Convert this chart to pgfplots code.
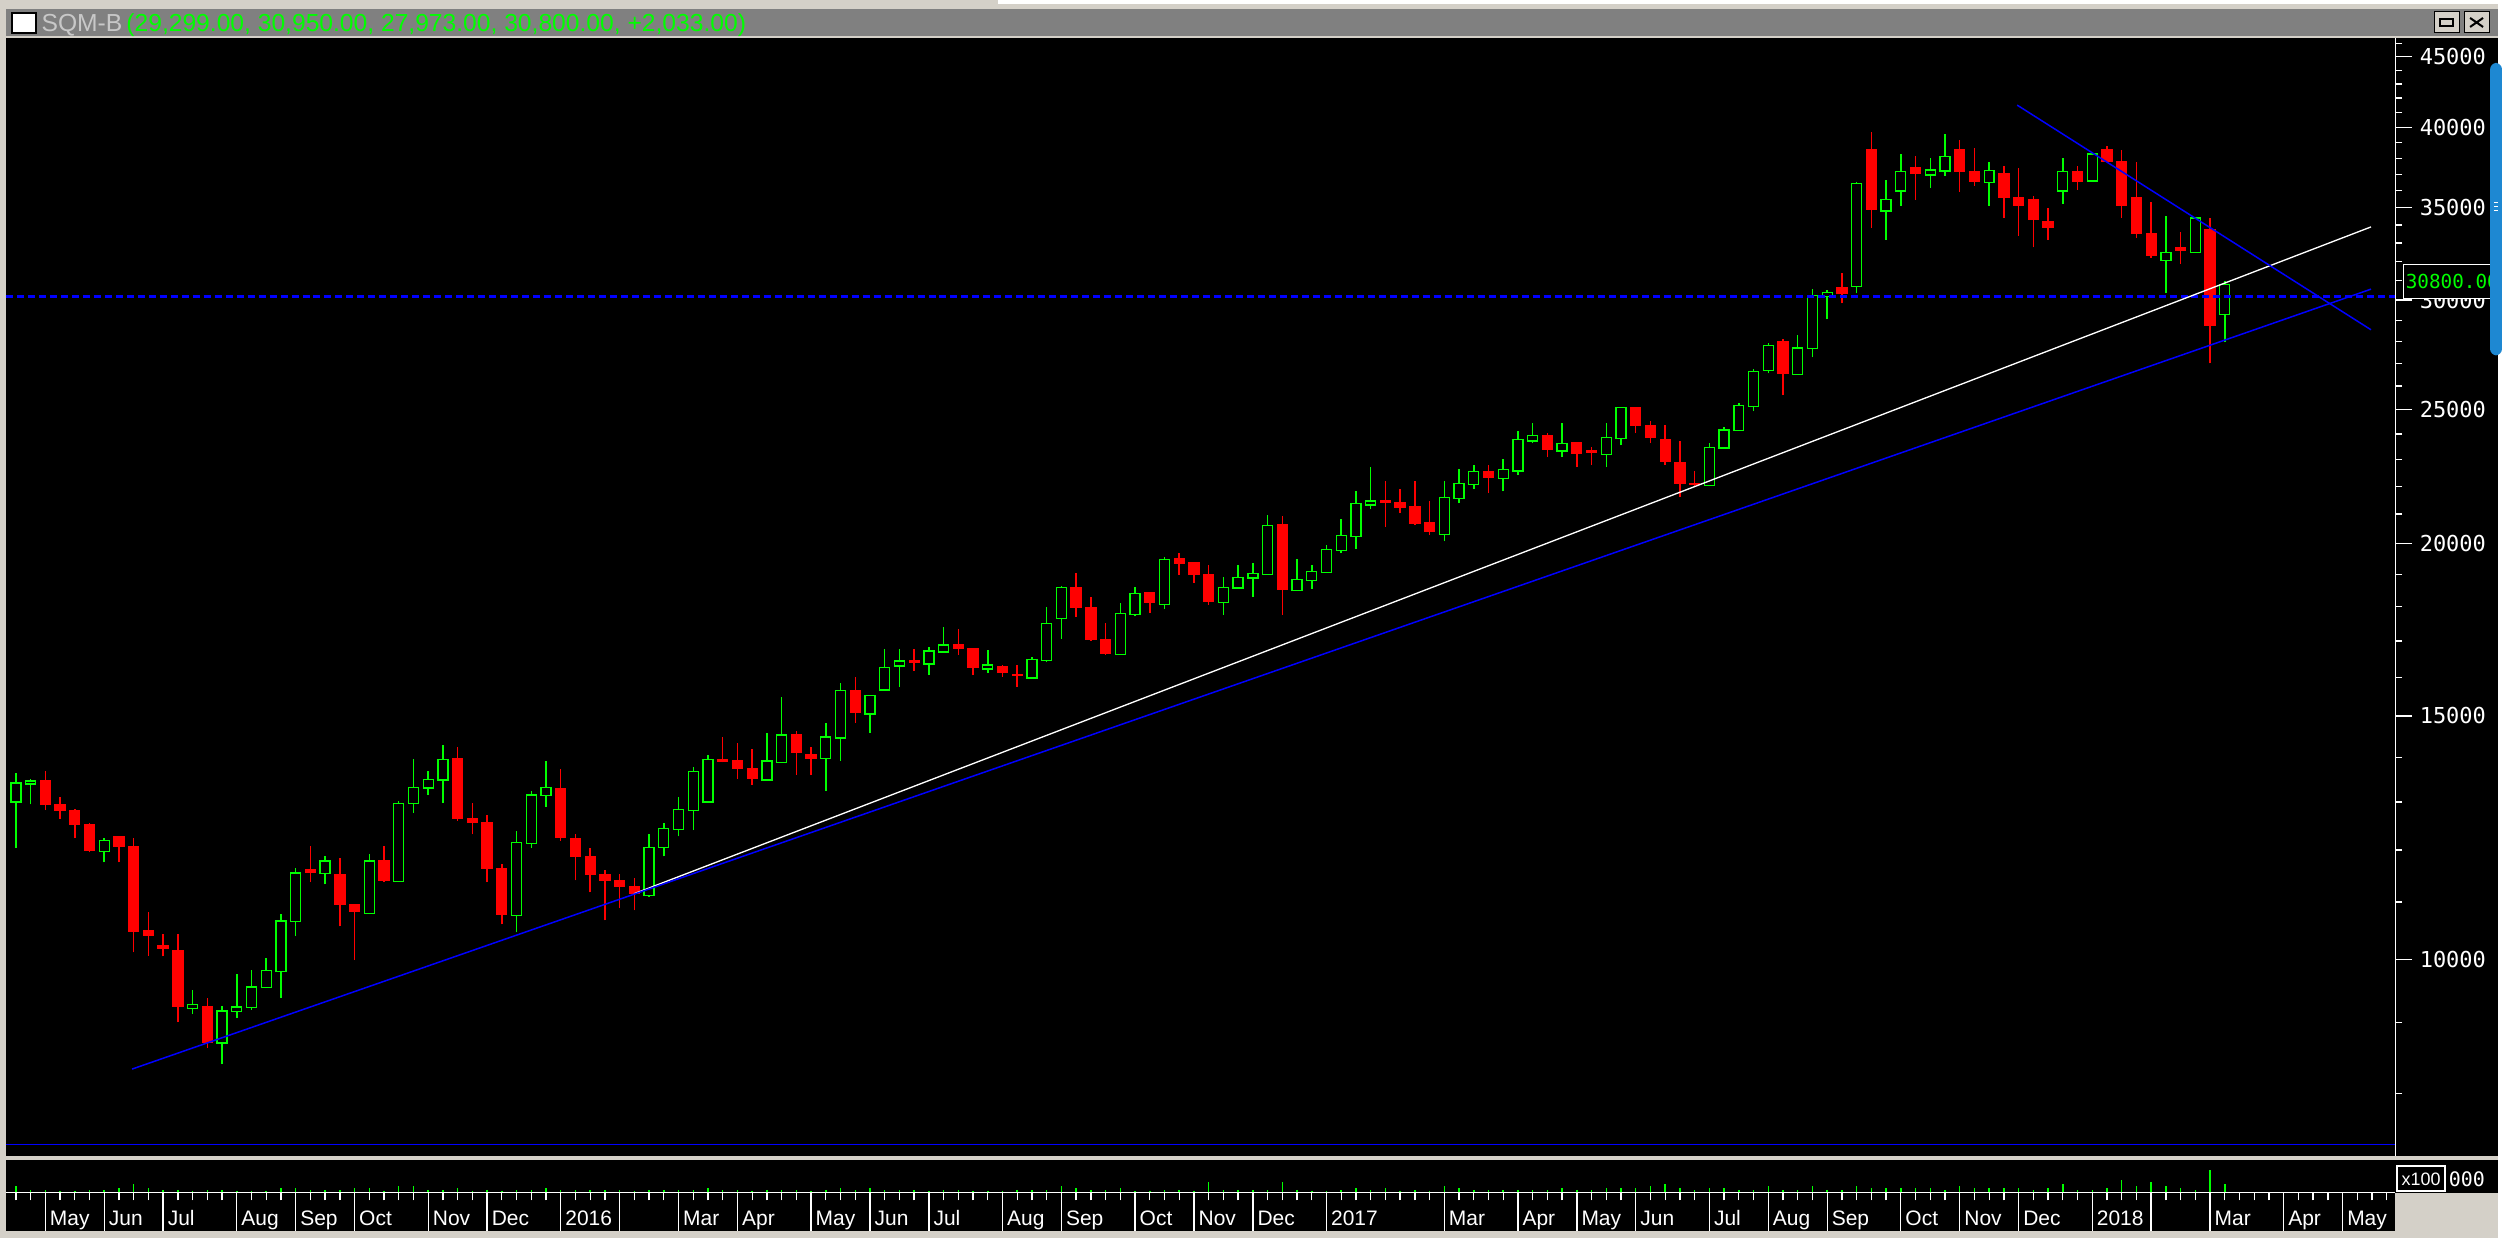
\documentclass[border=0pt]{standalone}
\usepackage{pgfplots}
\usepackage{pgfplotstable}
\pgfplotsset{compat=1.18}
\usepackage{fontspec}
\setmainfont{Liberation Sans}
\newfontfamily\monof{DejaVu Sans Mono}
\definecolor{cgreen}{HTML}{00FF00}
\definecolor{cred}{HTML}{FF0000}
\definecolor{cblue}{HTML}{0000FF}
\definecolor{winbg}{HTML}{D4D0C8}
\definecolor{titlebar}{HTML}{808080}
\definecolor{titletxt}{HTML}{C8C8C8}
\definecolor{scroll}{HTML}{1E88D2}

% weekly candles: i = week index (0 = week of 20 Apr 2015)
\pgfplotstableread{
i O H L C
0 13000 13650 12042 13418
1 13395 13514 12948 13462
2 13469 13694 12820 12948
3 12940 13115 12644 12820
4 12813 12856 12236 12518
5 12518 12540 11948 11988
6 11962 12230 11751 12183
7 12271 12271 11751 12074
8 12068 12230 10117 10472
9 10494 10813 10055 10402
10 10230 10425 10050 10190
11 10151 10425 9005 9253
12 9217 9497 9126 9279
13 9248 9372 8624 8710
14 8696 9248 8397 9176
15 9171 9753 9065 9237
16 9228 9819 9191 9550
17 9540 10017 9530 9814
18 9797 10778 9372 10658
19 10653 11635 10402 11544
20 11610 12068 11372 11560
21 11532 11870 11335 11777
22 11519 11830 10564 10964
23 10958 10958 9988 10826
24 10790 11909 10780 11777
25 11784 12068 11372 11410
26 11380 13028 11380 12970
27 12957 13971 12771 13319
28 13306 13694 13159 13498
29 13485 14300 12985 13954
30 13971 14253 12601 12644
31 12644 12985 12312 12560
32 12560 12728 11372 11635
33 11635 11712 10600 10778
34 10754 12394 10459 12143
35 12122 13247 12034 13152
36 13143 13925 12898 13319
37 13291 13741 12189 12244
38 12230 12312 11404 11876
39 11870 12028 11180 11519
40 11519 11596 10670 11404
41 11404 11519 10885 11291
42 11291 11443 10849 11155
43 11118 12312 11100 12054
44 12042 12560 11870 12429
45 12408 13115 12271 12841
46 12820 13786 12400 13680
47 13000 14064 13000 13954
48 13954 14492 13885 13908
49 13925 14348 13514 13756
50 13741 14205 13379 13521
51 13485 14588 13485 13918
52 13885 15489 13885 14533
53 14533 14637 13604 14118
54 14064 14253 13604 13971
55 13978 14833 13247 14484
56 14460 15853 13925 15644
57 15644 16013 14833 15082
58 15049 15540 14588 15521
59 15662 16777 15662 16263
60 16308 16777 15749 16436
61 16440 16777 16173 16410
62 16354 16833 16066 16713
63 16685 17403 16685 16881
64 16886 17345 16610 16777
65 16777 16777 16066 16281
66 16227 16740 16120 16335
67 16281 16335 16013 16120
68 16080 16335 15749 16050
69 15978 16555 15978 16490
70 16453 17991 16410 17508
71 17656 18620 17058 18589
72 18589 19037 17694 17991
73 17981 18292 17001 17058
74 17049 17517 16610 16664
75 16619 18110 16610 17803
76 17761 18598 17708 18404
77 18413 18413 17813 18119
78 18070 19550 17930 19476
79 19486 19682 18975 19358
80 19358 19358 18724 18984
81 18975 19294 18050 18171
82 18132 18912 17754 18578
83 18567 19294 18560 18890
84 18881 19358 18292 19029
85 18998 20967 18998 20596
86 20620 20925 17754 18536
87 18496 19486 18496 18827
88 18809 19294 18536 19080
89 19061 19945 19061 19790
90 19771 20828 19682 20257
91 20237 21818 19812 21363
92 21318 22708 21176 21460
93 21460 22187 20553 21430
94 21390 21893 21036 21246
95 21246 22187 20620 20690
96 20690 21461 20280 20391
97 20304 22187 20078 21594
98 21557 22631 21390 22101
99 22049 22783 21893 22545
100 22556 22783 21748 22335
101 22287 23014 21818 22631
102 22569 24109 22409 23779
103 23724 24434 23634 23939
104 23950 24030 23090 23399
105 23334 24434 23090 23622
106 23634 23634 22708 23245
107 23322 23477 22783 23270
108 23194 24434 22708 23859
109 23819 25100 23555 25080
110 25080 25080 24030 24352
111 24352 24515 23634 23871
112 23791 24352 22783 22937
113 22860 23713 21606 22112
114 22100 22556 22003 22050
115 22012 23634 22000 23451
116 23439 24272 23439 24162
117 24151 25259 24151 25163
118 25134 26730 24926 26629
119 26672 27910 26552 27805
120 28004 28098 25600 26566
121 26496 28286 26490 27693
122 27666 30536 27269 30216
123 30196 30520 29049 30397
124 30637 31358 29831 30332
125 30673 36550 30332 36424
126 38542 39713 33852 34883
127 34806 36668 33184 35467
128 35986 38285 35115 37160
129 37405 38158 35467 37036
130 36956 38032 36184 37264
131 37202 39582 36912 38113
132 38542 39189 35943 37160
133 37160 38670 36303 36547
134 36487 37779 35115 37239
135 37036 37530 34422 35586
136 35586 37405 33405 35115
137 35467 35705 32747 34307
138 34192 34999 33184 33852
139 35986 38032 35234 37160
140 37160 37530 36064 36547
141 36587 38350 36587 38268
142 38542 38800 37779 37779
143 37779 38542 34422 35115
144 35586 37779 33295 33518
145 33518 35352 32204 32314
146 32044 34534 30347 32489
147 32747 33629 31883 32570
148 32456 34450 32456 34403
149 33740 34422 26998 28767
150 29299 30950 27973 30800
}\ohlc

\pgfplotstableread{
i v
0 60
1 23
2 23
3 10
4 10
5 23
6 23
7 43
8 83
9 43
10 23
11 23
12 10
13 23
14 23
15 10
16 10
17 10
18 43
19 43
20 23
21 23
22 23
23 43
24 43
25 10
26 60
27 60
28 23
29 23
30 43
31 10
32 23
33 10
34 23
35 23
36 43
37 23
38 23
39 23
40 23
41 23
42 10
43 23
44 23
45 23
46 23
47 43
48 23
49 23
50 10
51 23
52 23
53 23
54 10
55 23
56 43
57 23
58 43
59 23
60 23
61 23
62 10
63 23
64 23
65 10
66 10
67 10
68 23
69 23
70 23
71 60
72 43
73 23
74 23
75 43
76 10
77 10
78 23
79 23
80 10
81 103
82 23
83 23
84 23
85 23
86 103
87 23
88 10
89 10
90 23
91 43
92 23
93 43
94 10
95 23
96 10
97 60
98 43
99 23
100 23
101 23
102 23
103 23
104 23
105 43
106 23
107 23
108 43
109 43
110 43
111 60
112 83
113 43
114 23
115 43
116 43
117 23
118 23
119 60
120 23
121 23
122 60
123 23
124 23
125 60
126 43
127 43
128 43
129 43
130 43
131 23
132 60
133 43
134 43
135 43
136 43
137 23
138 43
139 83
140 23
141 23
142 43
143 123
144 60
145 103
146 60
147 43
148 23
149 223
150 83
}\vol

\newcommand\candle[5]{%
  \pgfmathsetmacro\xl{#1-0.339}%
  \pgfmathsetmacro\xr{#1+0.339}%
  \ifnum#5<#2\relax \def\cc{cred}\def\fc{cred}\else \def\cc{cgreen}\def\fc{black}\fi
  \edef\tmp{%
    \noexpand\addplot[\cc, line width=0.45pt, forget plot] coordinates {(#1,#4) (#1,#3)};%
    \noexpand\addplot[draw=\cc, fill=\fc, line width=0.4pt, forget plot] coordinates {(\xl,#2) (\xr,#2) (\xr,#5) (\xl,#5)} -- cycle;%
  }\tmp
}

\begin{document}
\begin{tikzpicture}
\begin{scope}[x=0.3pt,y=-0.3pt]
\useasboundingbox (0,0) rectangle (2502,1240);
\fill[winbg] (0,0) rectangle (2502,1240);
\fill[white] (1000,0) rectangle (2502,4);
% title bar
\fill[titlebar] (6,9) rectangle (2502,36);
\filldraw[fill=white, draw=black, line width=0.6pt] (12,13) rectangle (36,33);
\node[anchor=base west, inner sep=0pt, font=\fontsize{7.4}{8}\selectfont] at (41,31.5) {\textcolor{titletxt}{SQM-B}\,\textcolor{cgreen}{(29,299.00, 30,950.00, 27,973.00, 30,800.00, +2,033.00)}};
\filldraw[fill=winbg, draw=black, line width=0.3pt] (2438,12) rectangle (2463,33);
\draw[black, line width=0.6pt] (2444,19) rectangle (2457,26);
\filldraw[fill=winbg, draw=black, line width=0.3pt] (2468,12) rectangle (2493,33);
\draw[black, line width=0.6pt] (2474,18) -- (2487,27) (2474,27) -- (2487,18);
% panels
\fill[black] (6,38) rectangle (2502,1158);
\fill[black] (6,1162) rectangle (2399,1233);
\fill[black] (2399,1162) rectangle (2502,1195);
\end{scope}

\begin{axis}[
  at={(1.8pt,-11.4pt)}, anchor=north west,
  scale only axis, width=717.9pt, height=336pt,
  xmin=-0.671, xmax=161.57,
  ymode=log, ymin=7205, ymax=46438,
  axis x line=none,
  axis y line*=right,
  axis line style={white, line width=0.4pt, -},
  ytick={10000,15000,20000,25000,30000,35000,40000,45000},
  yticklabels={10000,15000,20000,25000,30000,35000,40000,45000},
  minor ytick={8000,9000,11000,12000,13000,14000,16000,17000,18000,19000,21000,22000,23000,24000,26000,27000,28000,29000,31000,32000,33000,34000,36000,37000,38000,39000,41000,42000,43000,44000,46000},
  tick align=outside,
  major tick length=5.1pt, minor tick length=2.1pt,
  tick style={white, line width=0.4pt},
  yticklabel style={font=\monof\fontsize{6.6}{7}\selectfont, text=white, anchor=west, inner sep=0pt, xshift=2.1pt},
  clip=true,
]
\pgfplotsinvokeforeach{0,...,150}{%
  \pgfplotstablegetelem{#1}{O}\of\ohlc \edef\vO{\pgfplotsretval}%
  \pgfplotstablegetelem{#1}{H}\of\ohlc \edef\vH{\pgfplotsretval}%
  \pgfplotstablegetelem{#1}{L}\of\ohlc \edef\vL{\pgfplotsretval}%
  \pgfplotstablegetelem{#1}{C}\of\ohlc \edef\vC{\pgfplotsretval}%
  \candle{#1}{\vO}{\vH}{\vL}{\vC}%
}
% last-price dashed line
\addplot[cblue, line width=0.7pt, dash pattern=on 2.1pt off 1.2pt] coordinates {(-0.671,30180) (161.57,30180)};
% bottom line
\addplot[cblue, line width=0.5pt] coordinates {(-0.671,7345) (161.57,7345)};
% trend lines
\addplot[white, line width=0.4pt] coordinates {(41.97,11153) (159.93,33890)};
\addplot[cblue, line width=0.45pt] coordinates {(7.89,8328) (159.93,30551)};
\addplot[cblue, line width=0.45pt] coordinates {(135.9,41516) (159.93,28550)};
\end{axis}

\begin{axis}[
  at={(1.8pt,-348.6pt)}, anchor=north west,
  scale only axis, width=717.9pt, height=9.69pt,
  xmin=-0.671, xmax=161.57, ymin=0, ymax=323,
  axis y line=none, axis x line*=bottom,
  axis line style={white, line width=0.4pt, -},
  xtick={2,6,10,15,19,23,28,32,37,41,45,49,54,58,62,67,71,76,80,84,89,97,102,106,110,115,119,123,128,132,136,141,145,149,154,158},
  xticklabels={May,Jun,Jul,Aug,Sep,Oct,Nov,Dec,2016,\mbox{},Mar,Apr,May,Jun,Jul,Aug,Sep,Oct,Nov,Dec,2017,Mar,Apr,May,Jun,Jul,Aug,Sep,Oct,Nov,Dec,2018,\mbox{},Mar,Apr,May},
  minor xtick={0,...,161},
  tick align=outside,
  major tick length=11.6pt, minor tick length=2.4pt,
  tick style={white, line width=0.4pt},
  xticklabel style={font=\fontsize{6.3}{7}\selectfont, text=white, anchor=base west, inner sep=0pt, xshift=1.2pt, yshift=1.5pt},
  clip=false,
]
\addplot[cgreen, ycomb, line width=0.45pt] table[x=i, y=v] {\vol};
\end{axis}

\begin{scope}[x=0.3pt,y=-0.3pt]
% price box
\filldraw[fill=black, draw=white, line width=0.4pt] (2407,265) rectangle (2496,299);
\node[anchor=west, text=cgreen, font=\monof\fontsize{5.8}{7}\selectfont, inner sep=0pt] at (2409,282) {30800.00};
% volume scale box
\filldraw[fill=black, draw=white, line width=0.5pt] (2401,1168) rectangle (2449,1193);
\node[text=white, font=\fontsize{5.4}{6}\selectfont, inner sep=0pt] at (2425,1181) {x100};
\node[anchor=west, text=white, font=\monof\fontsize{6}{7}\selectfont, inner sep=0pt] at (2452,1181) {000};
% scroll handle
\fill[scroll, rounded corners=2pt] (2494,63) rectangle (2506,356);
\draw[white, line width=0.4pt] (2498,203) -- (2502,203) (2498,207) -- (2502,207) (2498,211) -- (2502,211);
\end{scope}
\end{tikzpicture}
\end{document}
